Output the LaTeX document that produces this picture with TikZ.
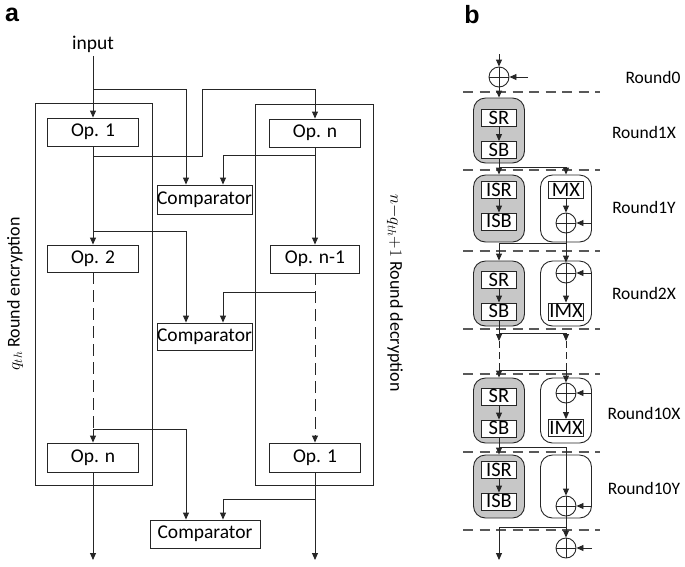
\documentclass[tikz,border=0pt]{standalone}
\usepackage{fontspec}
\setmainfont{Carlito}
\newfontfamily\labfont{Liberation Sans}
\usetikzlibrary{arrows.meta}
\newcommand\fsA{\fontsize{19.5}{21}\selectfont}
\newcommand\fsR{\fontsize{18}{20}\selectfont}
\newcommand\fsB{\fontsize{17.5}{19}\selectfont}
\newcommand\fsC{\fontsize{20.5}{21}\selectfont}
\newcommand\fsL{\labfont\bfseries\fontsize{25}{27}\selectfont}
\begin{document}
\begin{tikzpicture}[x=1pt,y=-1pt,
  ln/.style={line width=0.9pt, draw=black!85},
  arr/.style={ln, -{Triangle[length=7pt,width=6pt]}},
  dsh/.style={ln, dash pattern=on 12pt off 6pt},
  dshs/.style={ln, dash pattern=on 7pt off 4pt},
  sep/.style={line width=1.3pt, draw=black!65, dash pattern=on 10pt off 6.5pt},
  opbox/.style={draw=black!85, line width=0.9pt, fill=white, inner sep=0pt, font=\fsA, minimum width=91pt, minimum height=28pt},
  cmpbox/.style={opbox, minimum width=95pt},
  bigbox/.style={draw=black!85, line width=0.9pt, inner sep=0pt},
  gbox/.style={draw=black!85, line width=0.9pt, fill=black!22, rounded corners=12pt, inner sep=0pt, minimum width=51pt, minimum height=66pt},
  wbox/.style={gbox, fill=white},
  sbox/.style={draw=black!85, line width=0.9pt, fill=white, inner sep=0pt, font=\fsC, minimum width=35pt, minimum height=17pt, text height=12.5pt, text depth=0pt},
  xor/.style={circle, draw=black!85, line width=0.9pt, fill=white, minimum size=20pt, inner sep=0pt,
    path picture={\draw[line width=0.9pt, black!85] (path picture bounding box.north) -- (path picture bounding box.south) (path picture bounding box.west) -- (path picture bounding box.east);}},
  rlab/.style={font=\fsB, anchor=center}
]
\useasboundingbox (0,0) rectangle (685,566);

% ---------------- panel a ----------------
\node[font=\fsL] (la) at (12,15) {a};
\node[bigbox, minimum width=117pt, minimum height=382pt] (enc) at (93.5,294) {};
\node[bigbox, minimum width=118pt, minimum height=381pt] (dec) at (314,294.5) {};
\node[rotate=90, font=\fsR] (enclab) at (15,294) {$q_{th}$ Round encryption};
\node[rotate=-90, font=\fsR] (declab) at (395,293) {$n{-}q_{th}{+}1$ Round decryption};

\node[font=\fsA] (input) at (93,44) {input};
\coordinate (xc1) at (186,0);
\coordinate (xc2) at (223,0);
\coordinate (ja) at (93,89);
\coordinate (jb) at (93,156);
\coordinate (jc) at (315,155);
\coordinate (jd) at (93,231);
\coordinate (je) at (93,429);
\coordinate (jf) at (315,292);
\coordinate (jg) at (315,499);
\coordinate (outL) at (93,560);
\coordinate (outR) at (315,560);

\node[opbox] (op1) at (93,132) {Op. 1};
\node[opbox] (opnR) at (315,133) {Op. n};
\node[cmpbox, minimum height=29pt] (cmp1) at (204.5,199.5) {Comparator};
\node[opbox, minimum height=27pt] (op2) at (93,258.5) {Op. 2};
\node[opbox, minimum width=89pt] (opn1) at (315,259) {Op. n-1};
\node[cmpbox, minimum height=27pt] (cmp2) at (204.5,336.5) {Comparator};
\node[opbox, minimum height=29pt] (opnL) at (93,457.5) {Op. n};
\node[opbox, minimum height=29pt] (op1R) at (315,457.5) {Op. 1};
\node[cmpbox, minimum width=110pt] (cmp3) at (205,534) {Comparator};

\draw[arr] (input) -- (op1);
\draw[arr] (ja) -| (cmp1.north -| xc1);
\draw[arr] (jb) -- (202,156) -- (202,89) -| (opnR.north);
\draw[arr] (op1) -- (op2);
\draw[arr] (jc) -| (cmp1.north -| xc2);
\draw[arr] (opnR) -- (opn1);
\draw[arr] (jd) -| (cmp2.north -| xc1);
\draw[dsh] (op2) -- (je);
\draw[arr] (je) -- (opnL);
\draw[arr] (je) -| (cmp3.north -| xc1);
\draw[dsh, -{Triangle[length=7pt,width=6pt]}] (opn1) -- (op1R);
\draw[arr] (jf) -| (cmp2.north -| xc2);
\draw[arr] (jg) -| (cmp3.north -| xc2);
\draw[arr] (opnL) -- (outL);
\draw[arr] (op1R) -- (outR);

% ---------------- panel b ----------------
\node[font=\fsL] (lb) at (472,15) {b};
% separators
\foreach \yy/\nm in {92/s0,170/s1,251/s2,329/s3,374/s4,452/s5,530/s6}{
  \coordinate (\nm a) at (463,\yy);
  \coordinate (\nm b) at (600,\yy);
  \draw[sep] (\nm a) -- (\nm b);
}
% round labels
\node[rlab] (r0) at (653,77) {Round0};
\node[rlab] (r1x) at (644,132) {Round1X};
\node[rlab] (r1y) at (644,207) {Round1Y};
\node[rlab] (r2x) at (644,293) {Round2X};
\node[rlab] (r10x) at (644,413) {Round10X};
\node[rlab] (r10y) at (644,488) {Round10Y};

% round 0
\node[xor] (x0) at (499,77) {};
\coordinate (in0) at (499,54);
\coordinate (k0) at (528,77);
\draw[arr] (in0) -- (x0);
\draw[arr] (k0) -- (x0);

% round 1X
\node[gbox, minimum height=65pt] (g1) at (499,130.5) {};
\node[sbox] (sr1) at (499,118) {SR};
\node[sbox] (sb1) at (499,150) {SB};
\draw[arr] (x0) -- (g1.north);
\draw[arr] (sr1) -- (sb1);

% round 1Y
\node[gbox, minimum height=67pt] (g2) at (499,208.5) {};
\node[sbox] (isr2) at (499,190) {ISR};
\node[sbox] (isb2) at (499,221.5) {ISB};
\node[wbox, minimum height=67pt] (w2) at (566,208.5) {};
\node[sbox] (mx2) at (566,190) {MX};
\node[xor] (x2) at (566,223) {};
\coordinate (j1) at (499,167);
\draw[ln] (sb1) -- (j1);
\draw[arr] (j1) -- (g2.north);
\draw[arr] (j1) -| (w2.north);
\draw[arr] (isr2) -- (isb2);
\draw[arr] (mx2) -- (x2);
\draw[arr] (x2.east -| w2.east) -- (x2);

% round 2X
\node[gbox, minimum height=65pt] (g3) at (499,293.5) {};
\node[sbox] (sr3) at (499,280) {SR};
\node[sbox] (sb3) at (499,311.5) {SB};
\node[wbox, minimum height=65pt] (w3) at (566,293.5) {};
\node[xor] (x3) at (566,273) {};
\node[sbox] (imx3) at (566,311.5) {IMX};
\coordinate (j2) at (566,243);
\draw[ln] (x2) -- (j2);
\draw[arr] (j2) -| (g3.north);
\draw[arr] (j2) -- (x3);
\draw[arr] (sr3) -- (sb3);
\draw[arr] (x3) -- (imx3);
\draw[arr] (x3.east -| w3.east) -- (x3);

% gap
\coordinate (j3) at (499,333);
\coordinate (a3) at (499,341);
\coordinate (b3) at (566,341);
\coordinate (c3) at (499,370);
\coordinate (d3) at (566,370);
\draw[ln] (sb3) -- (j3);
\draw[arr] (j3) -- (a3);
\draw[arr] (j3) -| (b3);
\draw[dshs] (a3) -- (c3);
\draw[dshs] (b3) -- (d3);
\draw[ln] (c3) -- (d3);

% round 10X
\node[gbox, minimum height=65pt] (g4) at (499,410.5) {};
\node[sbox] (sr4) at (499,396.5) {SR};
\node[sbox] (sb4) at (499,428.5) {SB};
\node[wbox, minimum height=65pt] (w4) at (566,410.5) {};
\node[xor] (x4) at (566,393) {};
\node[sbox] (imx4) at (566,428) {IMX};
\draw[arr] (c3) -- (g4.north);
\draw[arr] (d3) -- (x4);
\draw[arr] (sr4) -- (sb4);
\draw[arr] (x4) -- (imx4);
\draw[arr] (x4.east -| w4.east) -- (x4);

% round 10Y
\node[gbox, minimum height=63pt] (g5) at (499,486.5) {};
\node[sbox] (isr5) at (499,470) {ISR};
\node[sbox] (isb5) at (499,501.5) {ISB};
\node[wbox, minimum height=63pt] (w5) at (566,486.5) {};
\node[xor] (x5) at (566,506) {};
\coordinate (j4) at (499,447);
\draw[ln] (sb4) -- (j4);
\draw[arr] (j4) -- (g5.north);
\draw[arr] (j4) -| (x5.north);
\draw[arr] (isr5) -- (isb5);
\draw[arr] (x5.east -| w5.east) -- (x5);

% final
\node[xor] (x6) at (566,548) {};
\coordinate (j5) at (566,527);
\coordinate (out) at (499,560);
\coordinate (k6) at (592,548);
\draw[ln] (x5) -- (j5);
\draw[arr] (j5) -| (out);
\draw[arr] (j5) -- (x6);
\draw[arr] (k6) -- (x6);
\end{tikzpicture}
\end{document}
